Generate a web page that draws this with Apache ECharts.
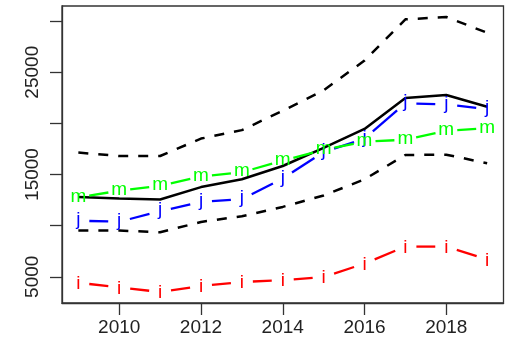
<!DOCTYPE html>
<html>
<head>
<meta charset="utf-8">
<script src="https://cdn.jsdelivr.net/npm/echarts@6/dist/echarts.min.js"></script>
<style>
  html, body { margin: 0; padding: 0; background: #fff; }
  #chart { width: 505px; height: 342px; }
</style>
</head>
<body>
<div id="chart"></div>
<script>
// Yearly series, 2009-2019
const years = [2009, 2010, 2011, 2012, 2013, 2014, 2015, 2016, 2017, 2018, 2019];
const meanVals  = [12790, 12660, 12560, 13770, 14530, 15830, 17600, 19450, 22480, 22770, 21620];
const upperVals = [17140, 16810, 16810, 18510, 19340, 21230, 23230, 26140, 30170, 30400, 28860];
const lowerVals = [9520, 9520, 9350, 10360, 10920, 11830, 12950, 14530, 16910, 16940, 16100];
const jVals = [10480, 10380, 11410, 12320, 12590, 14600, 17200, 18500, 21970, 21850, 21400];
const mVals = [12770, 13410, 13900, 14800, 15220, 16350, 17420, 18210, 18400, 19270, 19520];
const iVals = [4410, 3970, 3510, 4100, 4490, 4660, 4980, 6290, 7950, 7950, 6700];

// Tick positions and labelled ticks
const xTicks = [2010, 2012, 2014, 2016, 2018];
const yTicks = [5000, 10000, 15000, 20000, 25000, 30000];
const yLabels = [5000, 15000, 25000];

const FONT = '"Liberation Sans", Arial, sans-serif';

// Axis ranges padded by 4% on each side
function padded(lo, hi) {
  const r = hi - lo;
  return [lo - 0.04 * r, hi + 0.04 * r];
}
const allY = [].concat(meanVals, upperVals, lowerVals, jVals, mVals, iVals);
const [yMin, yMax] = padded(Math.min(...allY), Math.max(...allY));
const [xMin, xMax] = padded(years[0], years[years.length - 1]);

const GAP = 11;

// Line with a character at each point and gaps around the characters
function markedLine(vals, ch, color, dy, z) {
  return {
    type: 'custom',
    z: z,
    clip: false,
    data: years.map((y, k) => [y, vals[k]]),
    encode: { x: 0, y: 1 },
    renderItem: function (params, api) {
      const k = params.dataIndex;
      const p = api.coord([api.value(0), api.value(1)]);
      const children = [];
      if (k > 0) {
        const q = api.coord([years[k - 1], vals[k - 1]]);
        const dx = p[0] - q[0], dyy = p[1] - q[1];
        const len = Math.hypot(dx, dyy);
        if (len > 2 * GAP) {
          const ux = dx / len, uy = dyy / len;
          children.push({
            type: 'line',
            shape: { x1: q[0] + ux * GAP, y1: q[1] + uy * GAP, x2: p[0] - ux * GAP, y2: p[1] - uy * GAP },
            style: { stroke: color, lineWidth: 2.3, lineCap: 'butt' }
          });
        }
      }
      children.push({
        type: 'text',
        style: {
          text: ch, x: p[0], y: p[1] + dy,
          align: 'center', verticalAlign: 'middle',
          fill: color, font: '19px ' + FONT
        }
      });
      return { type: 'group', children: children };
    }
  };
}

function pairs(vals) { return years.map((y, k) => [y, vals[k]]); }

const chart = echarts.init(document.getElementById('chart'), null, { renderer: 'canvas' });
chart.setOption({
  animation: false,
  backgroundColor: '#fff',
  grid: {
    left: 62, right: 1.5, top: 6, bottom: 39,
    show: true, borderColor: '#333', borderWidth: 1.3,
    outerBoundsMode: 'none'
  },
  xAxis: {
    type: 'value', min: xMin, max: xMax,
    axisLine: { show: true, lineStyle: { color: '#333', width: 1.3 } },
    axisTick: { show: true, inside: false, length: 12, customValues: xTicks, lineStyle: { color: '#333', width: 1.3 } },
    axisLabel: { show: true, customValues: xTicks, margin: 15, color: '#222', fontSize: 19, fontFamily: FONT, formatter: v => String(v) },
    splitLine: { show: false }
  },
  yAxis: {
    type: 'value', min: yMin, max: yMax,
    axisLine: { show: true, lineStyle: { color: '#333', width: 1.3 } },
    axisTick: { show: true, inside: false, length: 12, customValues: yTicks, lineStyle: { color: '#333', width: 1.3 } },
    axisLabel: { show: true, customValues: yLabels, rotate: 90, margin: 20, color: '#222', fontSize: 19, fontFamily: FONT, formatter: v => String(v) },
    splitLine: { show: false }
  },
  series: [
    { type: 'line', data: pairs(meanVals), symbol: 'none', z: 2,
      lineStyle: { color: '#000', width: 2.5, type: 'solid' } },
    { type: 'line', data: pairs(upperVals), symbol: 'none', z: 2,
      lineStyle: { color: '#000', width: 2.5, type: [10, 10], cap: 'butt' } },
    { type: 'line', data: pairs(lowerVals), symbol: 'none', z: 2,
      lineStyle: { color: '#000', width: 2.5, type: [10, 10], cap: 'butt' } },
    markedLine(iVals, 'i', '#ff0000', 1, 3),
    markedLine(jVals, 'j', '#0000ff', -1, 4),
    markedLine(mVals, 'm', '#00ff00', -1, 5)
  ]
});
</script>
</body>
</html>
